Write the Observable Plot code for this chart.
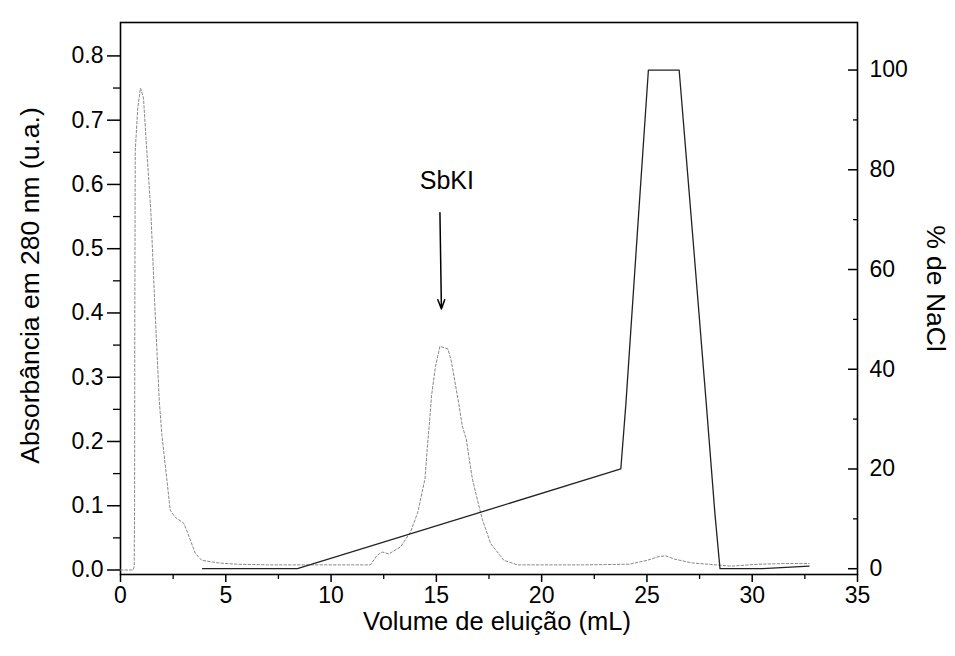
<!DOCTYPE html>
<html><head><meta charset="utf-8">
<script src="https://cdn.jsdelivr.net/npm/d3@7"></script>
<script src="https://cdn.jsdelivr.net/npm/@observablehq/plot@0.6"></script>
<style>body{margin:0;background:#fff}</style>
</head><body><div id="chart"></div>
<script>
// Absorbance at 280 nm (left axis)
const absVolume = [0, 0.6, 0.65, 0.67, 0.68, 0.70, 0.82, 0.95, 1.09, 1.25, 1.44, 1.62, 1.84, 1.96, 2.19, 2.36, 2.6, 3.0, 3.2, 3.55, 3.86, 4.66, 5.5, 7, 9, 11, 11.87, 12.19, 12.43, 12.74, 13.3, 13.77, 14.12, 14.46, 14.58, 14.68, 14.77, 14.96, 15.17, 15.55, 15.71, 15.95, 16.07, 16.23, 16.42, 16.55, 16.71, 16.98, 17.18, 17.34, 17.58, 18.21, 18.85, 20, 22, 24.16, 25.0, 25.58, 25.9, 26.3, 27.15, 28.28, 29, 30.3, 31.5, 32.7];
const absValue = [0, 0, 0.005, 0.1, 0.4, 0.652, 0.719, 0.75, 0.735, 0.652, 0.559, 0.419, 0.264, 0.212, 0.144, 0.093, 0.082, 0.073, 0.057, 0.026, 0.015, 0.011, 0.009, 0.008, 0.008, 0.008, 0.008, 0.023, 0.028, 0.025, 0.036, 0.059, 0.090, 0.142, 0.194, 0.232, 0.271, 0.317, 0.348, 0.344, 0.325, 0.28, 0.258, 0.224, 0.204, 0.175, 0.142, 0.105, 0.079, 0.064, 0.041, 0.015, 0.008, 0.008, 0.008, 0.009, 0.015, 0.021, 0.022, 0.017, 0.011, 0.008, 0.006, 0.009, 0.010, 0.010];
// NaCl gradient (right axis, %)
const naclVolume = [3.9, 8.4, 23.76, 24.0, 24.54, 25.07, 26.53, 27.17, 27.82, 28.23, 28.47, 30.5, 32.7];
const naclPercent = [0, 0, 20, 33, 67, 100, 100, 67, 33, 11, 0, 0, 0.5];
// axes
const xTicks = [0, 5, 10, 15, 20, 25, 30, 35];
const xMinor = [2.5, 7.5, 12.5, 17.5, 22.5, 27.5, 32.5];
const leftTicks = [0, 0.1, 0.2, 0.3, 0.4, 0.5, 0.6, 0.7, 0.8];
const leftMinor = [0.05, 0.15, 0.25, 0.35, 0.45, 0.55, 0.65, 0.75];
const rightTicks = [0, 20, 40, 60, 80, 100];
const rightMinor = [10, 30, 50, 70, 90];
// annotation
const annotation = [{label: "SbKI", x: 15.5, y: 0.606}];
const arrowData = [{x1: 15.17, y1: 0.556, x2: 15.24, y2: 0.406}];

const xTitle = "Volume de eluição (mL)";
const leftTitle = "Absorbância em 280 nm (u.a.)";
const rightTitle = "% de NaCl";

const toLeft = d3.scaleLinear().domain([0, 100]).range([0.002, 0.778]);
const abs = absVolume.map((v, i) => ({v, a: absValue[i]}));
const nacl = naclVolume.map((v, i) => ({v, p: naclPercent[i]}));

const chart = Plot.plot({
  width: 955, height: 656,
  marginLeft: 120, marginRight: 98, marginTop: 22, marginBottom: 82,
  x: {domain: [0, 35], label: null},
  y: {domain: [-0.007, 0.852], label: null},
  style: {fontFamily: "'Liberation Sans', Arial, sans-serif", background: "#fff", color: "#000"},
  marks: [
    Plot.axisX(xTicks, {tickSize: 8, tickPadding: 4, fontSize: 23, label: null, strokeWidth: 1.5}),
    Plot.axisX(xMinor, {tickSize: 5, tickFormat: () => "", label: null, strokeWidth: 1.3}),
    Plot.axisY(leftTicks, {tickSize: 13, tickPadding: 4, fontSize: 23, tickFormat: d3.format(".1f"), label: null, strokeWidth: 1.5}),
    Plot.axisY(leftMinor, {tickSize: 7, tickFormat: () => "", label: null, strokeWidth: 1.3}),
    Plot.axisY(rightTicks.map(toLeft), {anchor: "right", tickSize: -10, tickPadding: 22, fontSize: 23, tickFormat: v => String(Math.round(toLeft.invert(v))), label: null, strokeWidth: 1.5}),
    Plot.axisY(rightMinor.map(toLeft), {anchor: "right", tickSize: -5, tickFormat: () => "", label: null, strokeWidth: 1.3}),
    Plot.frame({stroke: "#000", strokeWidth: 1.6}),
    Plot.line(abs, {x: "v", y: "a", stroke: "#888", strokeWidth: 1, strokeDasharray: "2.5,2"}),
    Plot.line(nacl, {x: "v", y: d => toLeft(d.p), stroke: "#222", strokeWidth: 1.3}),
    Plot.arrow(arrowData, {x1: "x1", y1: "y1", x2: "x2", y2: "y2", headLength: 10, headAngle: 40, strokeWidth: 1.5, stroke: "#000"}),
    Plot.text(annotation, {x: "x", y: "y", text: "label", fontSize: 25, fill: "#000"}),
    Plot.text([xTitle], {frameAnchor: "bottom", dx: 8, dy: 55, lineAnchor: "bottom", textAnchor: "middle", fontSize: 25.5, fill: "#000"}),
    Plot.text([leftTitle], {frameAnchor: "left", dx: -90, dy: -13, rotate: -90, textAnchor: "middle", fontSize: 26.5, fill: "#000"}),
    Plot.text([rightTitle], {frameAnchor: "right", dx: 78, dy: -10, rotate: 90, textAnchor: "middle", fontSize: 26.5, fill: "#000"})
  ]
});
document.getElementById("chart").appendChild(chart);
</script>
</body></html>
